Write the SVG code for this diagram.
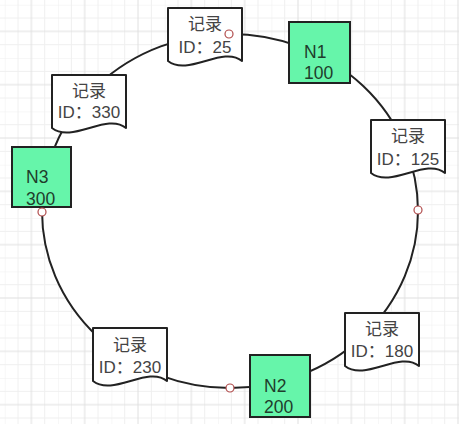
<svg xmlns="http://www.w3.org/2000/svg" xmlns:xlink="http://www.w3.org/1999/xlink" width="459" height="424" viewBox="0 0 459 424">
<style>
.doc{fill:#fff;stroke:#222;stroke-width:2;stroke-linejoin:round}
.node{fill:#66F5AA;stroke:#222;stroke-width:2}
.rt{font-family:"Liberation Sans","Noto Sans CJK SC",sans-serif;font-size:17px;fill:#444;text-anchor:middle}
.nt{font-family:"Liberation Sans","Noto Sans CJK SC",sans-serif;font-size:17.5px;fill:#1f3d2c}
.ring{fill:#fff;stroke:#222;stroke-width:2}
.dot{fill:#fff;stroke:#b04a4a;stroke-width:1.2}
</style>
<defs>
<pattern id="grid" patternUnits="userSpaceOnUse" x="4.7" y="4.7" width="53.33" height="53.33">
<path d="M0,0V53.33M13.33,0V53.33M40,0V53.33M0,0H53.33M0,13.33H53.33M0,40H53.33" stroke="#efefef" stroke-width="1" fill="none"/>
<path d="M26.67,0V53.33M0,26.67H53.33" stroke="#e0e0e0" stroke-width="1" fill="none"/>
</pattern>
<path id="docshape" class="doc" d="M0,0H74V53C55,37 20,69 0,53Z"/>
</defs>
<rect width="459" height="424" fill="#fff"/>
<rect width="459" height="424" fill="url(#grid)"/>
<g id="connectors">
<ellipse class="ring" cx="230" cy="211" rx="188" ry="177"/>
</g>
<g id="rec25">
<use xlink:href="#docshape" x="168" y="8"/>
<text class="rt" x="205" y="30">记录</text>
<text class="rt" x="205" y="53">ID：25</text>
</g>
<g id="n1">
<rect class="node" x="289" y="22" width="61" height="61"/>
<text class="nt" x="304" y="58">N1</text>
<text class="nt" x="304" y="79">100</text>
</g>
<g id="rec125">
<use xlink:href="#docshape" x="371" y="120"/>
<text class="rt" x="408" y="142">记录</text>
<text class="rt" x="408" y="165">ID：125</text>
</g>
<g id="rec180">
<use xlink:href="#docshape" x="345" y="313"/>
<text class="rt" x="382" y="335">记录</text>
<text class="rt" x="382" y="357">ID：180</text>
</g>
<g id="n2">
<rect class="node" x="250" y="355" width="60" height="62"/>
<text class="nt" x="264" y="392">N2</text>
<text class="nt" x="264" y="413">200</text>
</g>
<g id="rec230">
<use xlink:href="#docshape" x="93" y="328"/>
<text class="rt" x="130" y="351">记录</text>
<text class="rt" x="130" y="373">ID：230</text>
</g>
<g id="n3">
<rect class="node" x="12" y="147" width="59" height="60"/>
<text class="nt" x="26" y="183">N3</text>
<text class="nt" x="26" y="205">300</text>
</g>
<g id="rec330">
<use xlink:href="#docshape" x="52" y="75"/>
<text class="rt" x="89" y="97">记录</text>
<text class="rt" x="89" y="118">ID：330</text>
</g>
<g id="points">
<circle class="dot" cx="229" cy="34" r="4"/>
<circle class="dot" cx="418" cy="210" r="4"/>
<circle class="dot" cx="230" cy="388" r="4"/>
<circle class="dot" cx="42" cy="212" r="4"/>
</g>
</svg>
